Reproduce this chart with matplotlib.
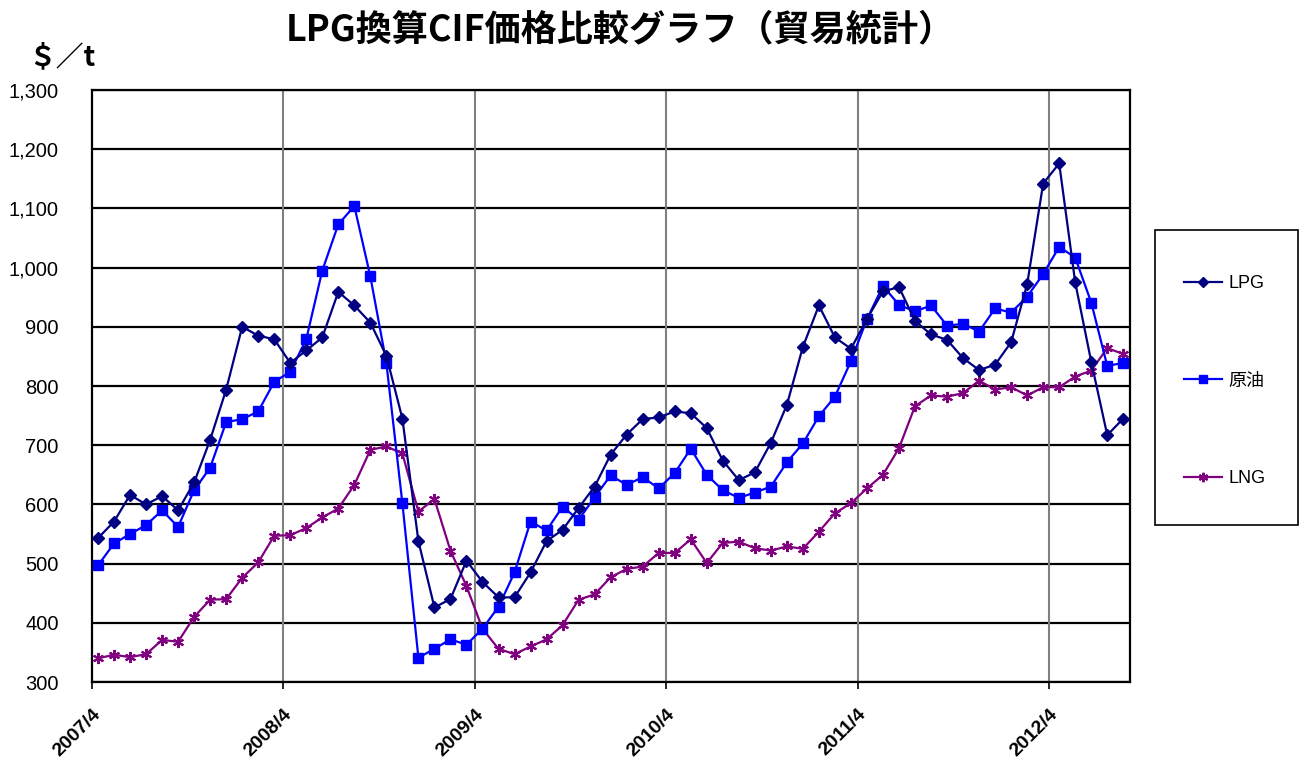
import matplotlib
matplotlib.use("Agg")
import matplotlib.pyplot as plt
from matplotlib.ticker import FixedLocator, FuncFormatter
from matplotlib.patches import Rectangle

plt.rcParams['font.family'] = ['Liberation Sans', 'Noto Sans CJK JP', 'DejaVu Sans']

year_labels = ["2007/4", "2008/4", "2009/4", "2010/4", "2011/4", "2012/4"]

lpg = [543, 571, 616, 600, 614, 590, 637, 709, 794, 900,
       885, 879, 839, 860, 882, 959, 936, 907, 851, 745,
       538, 426, 440, 505, 469, 443, 443, 485, 538, 557,
       594, 630, 684, 718, 744, 747, 757, 754, 729, 674,
       641, 654, 704, 768, 866, 936, 882, 863, 913, 960,
       967, 910, 887, 878, 847, 827, 836, 874, 972, 1142,
       1176, 975, 841, 717, 745]

crude = [497, 534, 550, 565, 590, 562, 624, 662, 739, 744,
         757, 807, 824, 879, 995, 1073, 1104, 985, 839, 602,
         341, 356, 372, 363, 390, 427, 485, 571, 556, 596,
         574, 612, 649, 633, 646, 627, 653, 694, 650, 624,
         611, 620, 630, 671, 703, 749, 782, 842, 913, 969,
         937, 926, 936, 902, 905, 892, 931, 924, 951, 989,
         1035, 1017, 941, 834, 839]

lng = [340, 346, 342, 347, 371, 368, 410, 439, 440, 476,
       502, 547, 548, 560, 578, 593, 633, 692, 698, 686,
       588, 609, 522, 462, 390, 356, 347, 360, 372, 396,
       439, 448, 477, 491, 495, 518, 518, 541, 501, 535,
       537, 526, 522, 529, 525, 554, 585, 602, 627, 650,
       695, 766, 784, 782, 788, 809, 794, 798, 784, 798,
       798, 816, 826, 864, 854]

months = list(range(len(lpg)))

W, H = 1304, 760
fig = plt.figure(figsize=(W/100, H/100), dpi=100)
ax = fig.add_axes([92/W, 1-682/H, (1130-92)/W, (682-90)/H])

l1, = ax.plot(months, lpg, color='#000080', marker='D', markersize=6.5, lw=1.6, label='LPG', zorder=4)
l2, = ax.plot(months, crude, color='#0000FF', marker='s', markersize=7, lw=1.6, label='原油', zorder=3)
l3, = ax.plot(months, lng, color='#800080', marker=(6, 2, 0), markersize=8, mew=1.5, lw=1.6, label='LNG', zorder=2)

ax.set_ylim(300, 1300)
ax.set_xlim(-0.375, 64.42)
ax.yaxis.set_major_locator(FixedLocator(range(300, 1301, 100)))
ax.yaxis.set_major_formatter(FuncFormatter(lambda v, p: f"{int(v):,}"))
ax.grid(axis='y', color='black', lw=1.6)
grid_pos = [k * 11.95 - 0.375 for k in range(len(year_labels))]
ax.set_xticks(grid_pos)
ax.set_xticklabels(year_labels, rotation=45, ha='right', va='top', fontsize=14,
                   fontweight='bold', rotation_mode='anchor')
for g in grid_pos[1:]:
    ax.axvline(g, color='#808080', lw=1.5, zorder=1)
ax.tick_params(axis='x', length=5, width=1.2, pad=12)
ax.tick_params(axis='y', length=0, pad=24, labelsize=14.5)
for s in ax.spines.values():
    s.set_linewidth(1.6)
    s.set_color('black')
ax.set_axisbelow(True)

fig.text(620/W, 1-30/H, 'LPG換算CIF価格比較グラフ（貿易統計）', ha='center', va='center',
         fontsize=26, fontweight='bold', family=['Noto Sans CJK JP'])
fig.text(62/W, 1-57/H, '＄／t', ha='center', va='center', fontsize=20, fontweight='bold',
         family=['Noto Sans CJK JP'])

# legend frame
fig.patches.append(Rectangle((1155/W, 1-525/H), (1298-1155)/W, (525-230)/H,
                             transform=fig.transFigure, facecolor='white',
                             edgecolor='black', lw=1.2, zorder=0))
leg = fig.legend(handles=[l1, l2, l3], loc='upper left', bbox_to_anchor=(1184/W, 1-275/H),
                 frameon=False, labelspacing=4.46, borderpad=0, handlelength=2.1,
                 handletextpad=0.35, borderaxespad=0, markerscale=0.85,
                 prop={'family': ['Liberation Sans', 'Noto Sans CJK JP'], 'size': 13})

fig.savefig('out.png', dpi=100)
